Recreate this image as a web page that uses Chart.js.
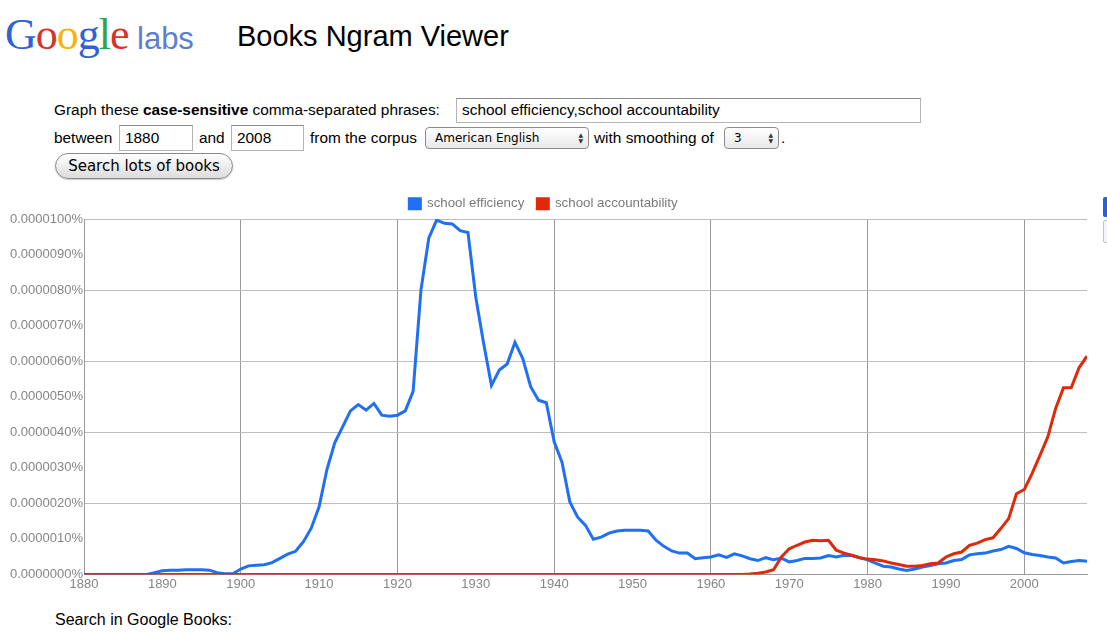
<!DOCTYPE html>
<html>
<head>
<meta charset="utf-8">
<title>Books Ngram Viewer</title>
<script src="https://cdn.jsdelivr.net/npm/chart.js@4.4.1/dist/chart.umd.min.js"></script>
<style>
  html, body { margin: 0; padding: 0; background: #fff; }
  body { position: relative; width: 1107px; height: 637px; overflow: hidden;
         font-family: "Liberation Sans", Arial, sans-serif; color: #000; }
  .abs { position: absolute; white-space: nowrap; line-height: 1; }
  #logo { left: 5px; top: 13px; font-family: "Liberation Serif", serif; font-size: 44px; letter-spacing: -1px; }
  #labs { left: 137px; top: 23px; font-size: 31px; color: #5b7fce; }
  #title { left: 237px; top: 22px; font-size: 29px; }
  .txt { font-size: 15.4px; }
  .box { position: absolute; box-sizing: border-box; border: 1px solid #b4b4b4; border-top-color: #8a8a8a;
         background: #fff; font-size: 15.4px; padding-left: 5px; white-space: nowrap; }
  .sel { position: absolute; box-sizing: border-box; border: 1px solid #8c8c8c; border-radius: 4px;
         background: linear-gradient(#ffffff, #e9e9e9); font-family: "DejaVu Sans", sans-serif;
         font-size: 12px; line-height: 20px; padding-left: 9px; white-space: nowrap; }
  .arr { position: absolute; right: 5px; top: 4px; font-size: 6px; line-height: 6px; color: #333; }
  #btn { position: absolute; left: 55px; top: 153px; width: 178px; height: 26px; box-sizing: border-box;
         border: 1px solid #8a8a8a; border-radius: 13px; background: linear-gradient(#ffffff, #dcdcdc);
         font-family: "DejaVu Sans", sans-serif; font-size: 15px; line-height: 24px; text-align: center;
         box-shadow: 0 1px 1px rgba(0,0,0,0.2); }
  #chartWrap { position: absolute; left: 0; top: 184px; width: 1100px; height: 410px; }
  #edge1 { position: absolute; left: 1103px; top: 197px; width: 6px; height: 20px; background: #2a5fd6; border-radius: 2px; }
  #edge2 { position: absolute; left: 1103px; top: 220px; width: 6px; height: 21px; background: #f2f5fb;
           border: 1px solid #b8c4dc; border-radius: 2px; }
</style>
</head>
<body>

<div id="logo" class="abs"><span style="color:#2f63d3">G</span><span style="color:#d8332a">o</span><span style="color:#f2b50f">o</span><span style="color:#2f63d3">g</span><span style="color:#2ea44f">l</span><span style="color:#d8332a">e</span></div>
<div id="labs" class="abs">labs</div>
<div id="title" class="abs">Books Ngram Viewer</div>

<div class="abs txt" style="left:54px; top:102px;">Graph these <b>case-sensitive</b> comma-separated phrases:</div>
<div class="box" style="left:456px; top:98px; width:465px; height:25px; line-height:22px;">school efficiency,school accountability</div>

<div class="abs txt" style="left:54px; top:130px;">between</div>
<div class="box" style="left:119px; top:125px; width:74px; height:26px; line-height:23px;">1880</div>
<div class="abs txt" style="left:199px; top:130px;">and</div>
<div class="box" style="left:231px; top:125px; width:73px; height:26px; line-height:23px;">2008</div>
<div class="abs txt" style="left:310px; top:130px;">from the corpus</div>
<div class="sel" style="left:425px; top:127px; width:164px; height:22px;">American English<div class="arr">▲<br>▼</div></div>
<div class="abs txt" style="left:594px; top:130px;">with smoothing of</div>
<div class="sel" style="left:724px; top:127px; width:55px; height:22px;">3<div class="arr">▲<br>▼</div></div>
<div class="abs txt" style="left:781px; top:130px;">.</div>

<div id="btn">Search lots of books</div>

<div id="edge1"></div>
<div id="edge2"></div>

<div id="chartWrap"><canvas id="ngramChart"></canvas></div>

<div class="abs" style="left:55px; top:612px; font-size:16px;">Search in Google Books:</div>

<script>
// values are in millionths of a percent (9.97 -> 0.00000997%)
const years = [];
for (let y = 1880; y <= 2008; y++) years.push(y);

const seriesNames = ['school efficiency', 'school accountability'];
const seriesColors = ['#1f70f3', '#e0290a'];

const efficiency = [
    0, 0, 0, 0, 0, 0, 0, 0, 0, 0.05,                        // 1880s
    0.10, 0.12, 0.12, 0.13, 0.13, 0.13, 0.12, 0.05, 0.02, 0.02, // 1890s
    0.15, 0.24, 0.26, 0.27, 0.33, 0.45, 0.57, 0.65, 0.92, 1.30, // 1900s
    1.90, 2.95, 3.70, 4.15, 4.60, 4.78, 4.62, 4.81, 4.48, 4.45, // 1910s
    4.48, 4.60, 5.15, 8.00, 9.46, 9.97, 9.88, 9.86, 9.67, 9.62, // 1920s
    7.80, 6.50, 5.32, 5.75, 5.92, 6.53, 6.07, 5.28, 4.90, 4.83, // 1930s
    3.73, 3.16, 2.04, 1.61, 1.38, 0.99, 1.05, 1.16, 1.22, 1.24, // 1940s
    1.24, 1.24, 1.22, 0.96, 0.79, 0.66, 0.60, 0.60, 0.44, 0.47, // 1950s
    0.49, 0.55, 0.48, 0.58, 0.52, 0.44, 0.39, 0.47, 0.41, 0.46, // 1960s
    0.35, 0.39, 0.45, 0.45, 0.46, 0.53, 0.49, 0.54, 0.53, 0.47, // 1970s
    0.41, 0.32, 0.23, 0.21, 0.15, 0.11, 0.15, 0.21, 0.25, 0.30, // 1980s
    0.32, 0.39, 0.42, 0.55, 0.58, 0.60, 0.66, 0.70, 0.79, 0.73, // 1990s
    0.61, 0.56, 0.53, 0.49, 0.46, 0.32, 0.36, 0.39, 0.37        // 2000-2008
];

const accountability = [
    0, 0, 0, 0, 0, 0, 0, 0, 0, 0,                               // 1880s
    0, 0, 0, 0, 0, 0, 0, 0, 0, 0,                               // 1890s
    0, 0, 0, 0, 0, 0, 0, 0, 0, 0,                               // 1900s
    0, 0, 0, 0, 0, 0, 0, 0, 0, 0,                               // 1910s
    0, 0, 0, 0, 0, 0, 0, 0, 0, 0,                               // 1920s
    0, 0, 0, 0, 0, 0, 0, 0, 0, 0,                               // 1930s
    0, 0, 0, 0, 0, 0, 0, 0, 0, 0,                               // 1940s
    0, 0, 0, 0, 0, 0, 0, 0, 0, 0,                               // 1950s
    0, 0, 0, 0, 0, 0.01, 0.03, 0.07, 0.13, 0.49,                // 1960s
    0.72, 0.82, 0.91, 0.96, 0.95, 0.96, 0.68, 0.60, 0.54, 0.47, // 1970s
    0.43, 0.41, 0.38, 0.32, 0.28, 0.23, 0.23, 0.25, 0.30, 0.32, // 1980s
    0.49, 0.58, 0.63, 0.82, 0.88, 0.98, 1.03, 1.29, 1.57, 2.27, // 1990s
    2.39, 2.84, 3.35, 3.87, 4.67, 5.25, 5.26, 5.82, 6.14        // 2000-2008
];

const yMax = 10;          // top tick, 0.0000100%
const xMin = 1880, xMax = 2008;

const tickFont = { family: 'Liberation Sans', size: 13 };
const tickColor = '#858585';

function toPoints(vals) {
    return years.map((yr, i) => ({ x: yr, y: vals[i] }));
}

new Chart(document.getElementById('ngramChart'), {
    type: 'line',
    data: {
        datasets: [
            {
                label: seriesNames[0],
                data: toPoints(efficiency),
                borderColor: seriesColors[0],
                backgroundColor: seriesColors[0],
                borderWidth: 3,
                pointRadius: 0,
                tension: 0,
                order: 1
            },
            {
                label: seriesNames[1],
                data: toPoints(accountability),
                borderColor: seriesColors[1],
                backgroundColor: seriesColors[1],
                borderWidth: 3,
                pointRadius: 0,
                tension: 0,
                order: 0
            }
        ]
    },
    options: {
        responsive: true,
        maintainAspectRatio: false,
        animation: false,
        layout: { padding: { left: 0, right: 13, top: 0, bottom: 0 } },
        plugins: {
            tooltip: { enabled: false },
            legend: {
                position: 'top',
                align: 'center',
                maxHeight: 35,
                labels: {
                    font: { family: 'Liberation Sans', size: 13.3 },
                    color: '#7a7a7a',
                    boxWidth: 11,
                    boxHeight: 10,
                    padding: 13,
                    sort: (a, b) => a.datasetIndex - b.datasetIndex
                }
            }
        },
        scales: {
            x: {
                type: 'linear',
                min: xMin,
                max: xMax,
                border: { display: true, color: '#9a9a9a' },
                grid: {
                    drawTicks: false,
                    color: ctx => (ctx.tick && ctx.tick.value % 20 === 0) ? '#9a9a9a' : 'rgba(0,0,0,0)'
                },
                ticks: {
                    stepSize: 10,
                    includeBounds: false,
                    autoSkip: false,
                    maxRotation: 0,
                    padding: 2,
                    font: tickFont,
                    color: tickColor,
                    callback: v => String(v)
                }
            },
            y: {
                min: 0,
                max: yMax,
                afterFit: scale => { scale.width = 84; },
                border: { display: true, color: '#9a9a9a' },
                grid: {
                    drawTicks: false,
                    color: ctx => (ctx.tick && ctx.tick.value % 2 === 0) ? '#bdbdbd' : 'rgba(0,0,0,0)'
                },
                ticks: {
                    stepSize: 1,
                    padding: 1,
                    font: tickFont,
                    color: tickColor,
                    callback: v => (v / 1e6).toFixed(7) + '%'
                }
            }
        }
    }
});
</script>
</body>
</html>
